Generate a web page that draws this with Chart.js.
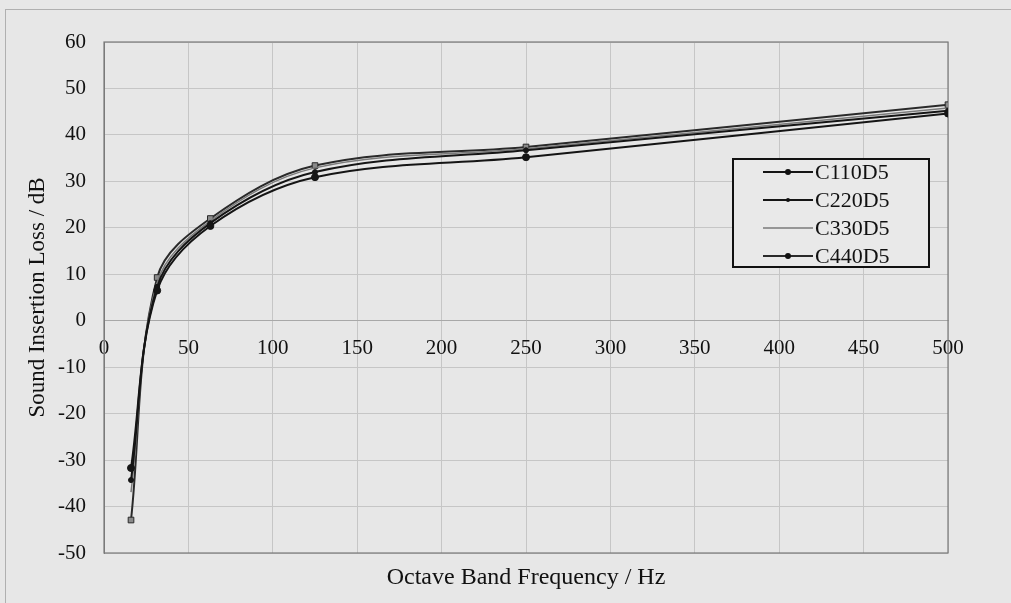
<!DOCTYPE html>
<html><head><meta charset="utf-8">
<script src="https://cdn.jsdelivr.net/npm/chart.js@4.4.1/dist/chart.umd.min.js"></script>
<style>html,body{margin:0;padding:0;background:#e7e7e7;overflow:hidden;}</style>
</head><body>
<canvas id="c" width="1011" height="603"></canvas>
<script>
const frequencies = [16, 31.5, 63, 125, 250, 500];
const seriesNames = ['C110D5', 'C220D5', 'C330D5', 'C440D5'];
const c110d5 = [-31.7, 6.5, 20.4, 30.9, 35.2, 44.6];
const c220d5 = [-34.3, 7.3, 21.0, 32.0, 36.7, 45.2];
const c330d5 = [-36.9, 8.2, 21.5, 32.9, 37.0, 45.8];
const c440d5 = [-42.9, 9.3, 22.0, 33.4, 37.4, 46.5];
const xTickValues = [0, 50, 100, 150, 200, 250, 300, 350, 400, 450, 500];
const yTickValues = [-50, -40, -30, -20, -10, 0, 10, 20, 30, 40, 50, 60];

const FONT = 'Liberation Serif';
Chart.defaults.font.family = FONT;
Chart.defaults.color = '#111';

const pts = vals => frequencies.map((f, i) => ({x: f, y: vals[i]}));

const styles = [
  {color: '#151515', width: 2, radius: 3.5, style: 'circle', fill: '#151515', legendR: 3},
  {color: '#151515', width: 2, radius: 2.5, style: 'circle', fill: '#151515', legendR: 2},
  {color: '#7a7a7a', width: 1.5, radius: 0, style: 'circle', fill: '#7a7a7a', legendR: 0},
  {color: '#2a2a2a', width: 2, radius: 4, style: 'rect', fill: '#8a8a8a', legendR: 3}
];
const allValues = [c110d5, c220d5, c330d5, c440d5];

const bgPlugin = {
  id: 'bg',
  beforeDraw(chart) {
    const ctx = chart.ctx;
    ctx.save();
    ctx.fillStyle = '#e7e7e7';
    ctx.fillRect(0, 0, chart.width, chart.height);
    ctx.strokeStyle = '#b0b0b0';
    ctx.lineWidth = 1;
    ctx.strokeRect(5.5, 9.5, 1200, 800);
    ctx.restore();
  },
  beforeDatasetsDraw(chart) {
    const {ctx, chartArea: a} = chart;
    ctx.save();
    ctx.strokeStyle = '#7a7a7a';
    ctx.lineWidth = 1.2;
    ctx.strokeRect(a.left, a.top, a.right - a.left, a.bottom - a.top);
    ctx.restore();
  }
};

const legendPlugin = {
  id: 'customLegend',
  afterDraw(chart) {
    const ctx = chart.ctx;
    const bx = 733, by = 159, bw = 196, bh = 108;
    ctx.save();
    ctx.fillStyle = '#e9e9e9';
    ctx.fillRect(bx, by, bw, bh);
    ctx.strokeStyle = '#111';
    ctx.lineWidth = 2;
    ctx.strokeRect(bx, by, bw, bh);
    ctx.font = '22px "' + FONT + '"';
    ctx.textBaseline = 'middle';
    ctx.textAlign = 'left';
    seriesNames.forEach((name, i) => {
      const y = 172 + i * 28;
      const s = styles[i];
      ctx.strokeStyle = s.color;
      ctx.lineWidth = s.width;
      ctx.beginPath();
      ctx.moveTo(763, y);
      ctx.lineTo(813, y);
      ctx.stroke();
      if (s.legendR > 0) {
        ctx.fillStyle = '#111';
        ctx.beginPath();
        ctx.arc(788, y, s.legendR, 0, Math.PI * 2);
        ctx.fill();
      }
      ctx.fillStyle = '#111';
      ctx.fillText(name, 815, y + 1);
    });
    ctx.restore();
  }
};

new Chart(document.getElementById('c'), {
  type: 'scatter',
  data: {
    datasets: seriesNames.map((name, i) => ({
      label: name,
      data: pts(allValues[i]),
      showLine: true,
      tension: 0.35,
      borderColor: styles[i].color,
      borderWidth: styles[i].width,
      pointRadius: styles[i].radius,
      pointStyle: styles[i].style,
      pointBackgroundColor: styles[i].fill,
      pointBorderColor: styles[i].color,
      pointBorderWidth: 1,
      fill: false
    }))
  },
  options: {
    responsive: false,
    animation: false,
    layout: {padding: {left: 10, right: 63, top: 42, bottom: 6.6}},
    plugins: {
      legend: {display: false},
      tooltip: {enabled: false},
      title: {
        display: true, position: 'bottom', fullSize: false, text: 'Octave Band Frequency / Hz',
        color: '#111', font: {family: FONT, size: 24, weight: 'normal'},
        padding: {top: 10.6, bottom: 4}
      }
    },
    scales: {
      x: {
        type: 'linear', position: {y: 0}, min: 0, max: 500,
        afterBuildTicks(s) { s.ticks = xTickValues.map(v => ({value: v})); },
        ticks: {padding: 15, color: '#111', font: {family: FONT, size: 21}},
        grid: {color: '#c6c6c6', drawTicks: false},
        border: {display: true, color: '#a8a8a8'}
      },
      y: {
        type: 'linear', min: -50, max: 60,
        afterBuildTicks(s) { s.ticks = yTickValues.map(v => ({value: v})); },
        afterFit(s) { s.width = 94; },
        ticks: {padding: 18, color: '#111', font: {family: FONT, size: 21}},
        grid: {color: '#c6c6c6', drawTicks: false},
        border: {display: true, color: '#7a7a7a'},
        title: {
          display: true, text: 'Sound Insertion Loss / dB', color: '#111',
          font: {family: FONT, size: 23}, padding: {top: 14, bottom: 0}
        }
      }
    }
  },
  plugins: [bgPlugin, legendPlugin]
});
</script>
</body></html>
